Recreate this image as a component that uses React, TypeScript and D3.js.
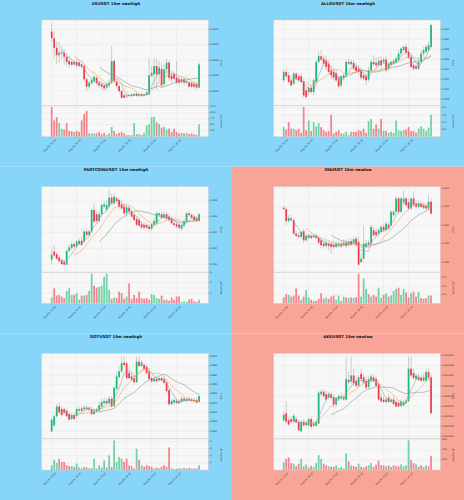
import React from 'react';
import * as d3 from 'd3';

type OHLC = [number, number, number, number]; // open, high, low, close

const timeLabels = ["Aug 04, 12:00", "Aug 04, 14:30", "Aug 04, 17:00", "Aug 04, 19:30", "Aug 04, 22:00", "Aug 05, 00:30"];
const timeTickIdx = [0, 10, 20, 30, 40, 50];

// ---------- USUSDT ----------
const usOHLC: OHLC[] = [
[0.05392,0.05419,0.05357,0.05371],[0.05371,0.05394,0.05303,0.05340],[0.05340,0.05362,0.05286,0.05316],[0.05316,0.05357,0.05292,0.05324],
[0.05322,0.05346,0.05303,0.05326],[0.05324,0.05335,0.05286,0.05311],[0.05311,0.05324,0.05281,0.05294],[0.05297,0.05313,0.05276,0.05286],
[0.05294,0.05303,0.05281,0.05285],[0.05286,0.05303,0.05281,0.05294],[0.05294,0.05308,0.05276,0.05283],[0.05292,0.05303,0.05276,0.05281],
[0.05286,0.05297,0.05270,0.05279],[0.05281,0.05286,0.05232,0.05238],[0.05238,0.05243,0.05200,0.05214],[0.05214,0.05232,0.05208,0.05227],
[0.05225,0.05243,0.05218,0.05236],[0.05232,0.05251,0.05225,0.05246],[0.05243,0.05249,0.05218,0.05225],[0.05227,0.05232,0.05208,0.05218],
[0.05222,0.05227,0.05205,0.05214],[0.05218,0.05225,0.05200,0.05208],[0.05211,0.05227,0.05203,0.05222],[0.05218,0.05238,0.05211,0.05227],
[0.05227,0.05346,0.05222,0.05297],[0.05297,0.05303,0.05227,0.05232],[0.05232,0.05238,0.05208,0.05216],[0.05216,0.05222,0.05192,0.05200],
[0.05200,0.05205,0.05175,0.05178],[0.05186,0.05191,0.05175,0.05178],[0.05182,0.05189,0.05177,0.05186],[0.05184,0.05190,0.05181,0.05187],
[0.05184,0.05192,0.05182,0.05189],[0.05186,0.05195,0.05184,0.05191],[0.05191,0.05195,0.05181,0.05184],[0.05185,0.05195,0.05182,0.05190],
[0.05190,0.05195,0.05181,0.05184],[0.05184,0.05192,0.05181,0.05189],[0.05187,0.05200,0.05184,0.05195],[0.05189,0.05308,0.05186,0.05251],
[0.05249,0.05281,0.05243,0.05259],[0.05254,0.05308,0.05216,0.05281],[0.05281,0.05303,0.05205,0.05254],[0.05254,0.05297,0.05227,0.05276],
[0.05272,0.05292,0.05211,0.05218],[0.05222,0.05286,0.05214,0.05270],[0.05270,0.05303,0.05249,0.05292],[0.05292,0.05300,0.05232,0.05243],
[0.05249,0.05265,0.05227,0.05238],[0.05254,0.05265,0.05232,0.05240],[0.05243,0.05297,0.05222,0.05227],[0.05238,0.05249,0.05218,0.05227],
[0.05229,0.05246,0.05222,0.05238],[0.05238,0.05246,0.05218,0.05227],[0.05227,0.05240,0.05222,0.05232],[0.05227,0.05232,0.05211,0.05214],
[0.05225,0.05232,0.05208,0.05214],[0.05224,0.05232,0.05208,0.05214],[0.05222,0.05229,0.05203,0.05211],[0.05211,0.05292,0.05208,0.05286],
];
const usVol = [12.5,6.8,8.2,5.7,3.4,3.0,5.8,2.4,2.3,2.0,2.4,2.0,6.8,9.5,10.9,1.4,1.4,1.4,1.4,2.0,1.1,1.6,0.7,1.4,4.1,2.4,1.1,1.6,2.0,1.4,0.7,0.7,0.7,5.7,1.1,1.1,0.7,1.6,4.8,5.2,8.2,8.4,6.1,5.4,3.8,4.1,3.0,3.4,2.0,3.4,2.0,1.4,1.6,1.4,1.6,1.1,1.4,1.0,0.8,5.2];
const usPriceTicks = [0.0520, 0.0525, 0.0530, 0.0535, 0.0540];
const usVolTicks = [2.5, 5.0, 7.5, 10.0, 12.5];

// ---------- ALLOUSDT ----------
const alloOHLC: OHLC[] = [
[0.25177,0.25379,0.25143,0.25345],[0.25345,0.25412,0.25231,0.25258],[0.25278,0.25345,0.25110,0.25143],[0.25177,0.25258,0.25056,0.25076],
[0.25110,0.25345,0.25076,0.25311],[0.25311,0.25345,0.25177,0.25211],[0.25258,0.25311,0.25143,0.25177],[0.25258,0.25325,0.25110,0.25143],
[0.25157,0.25211,0.24840,0.24874],[0.24975,0.25029,0.24807,0.24840],[0.24941,0.25076,0.24874,0.25029],[0.25029,0.25076,0.24908,0.24941],
[0.24941,0.25211,0.24874,0.25177],[0.25143,0.25581,0.25110,0.25547],[0.25547,0.25749,0.25513,0.25661],[0.25661,0.25783,0.25567,0.25594],
[0.25614,0.25682,0.25460,0.25513],[0.25581,0.25661,0.25379,0.25446],[0.25513,0.25581,0.25278,0.25345],[0.25379,0.25460,0.25211,0.25278],
[0.25345,0.25412,0.25177,0.25244],[0.25325,0.25379,0.25143,0.25177],[0.25211,0.25278,0.25009,0.25056],[0.25076,0.25278,0.25029,0.25258],
[0.25231,0.25325,0.25177,0.25278],[0.25278,0.25594,0.25231,0.25547],[0.25547,0.25614,0.25480,0.25513],[0.25500,0.25594,0.25460,0.25547],
[0.25527,0.25581,0.25365,0.25412],[0.25446,0.25513,0.25311,0.25365],[0.25412,0.25480,0.25278,0.25345],[0.25379,0.25446,0.25177,0.25231],
[0.25278,0.25345,0.25177,0.25211],[0.25258,0.25311,0.25076,0.25177],[0.25190,0.25446,0.25143,0.25379],[0.25379,0.25594,0.25345,0.25547],
[0.25547,0.25682,0.25460,0.25500],[0.25527,0.25635,0.25412,0.25480],[0.25480,0.25648,0.25446,0.25567],[0.25581,0.25661,0.25365,0.25480],
[0.25547,0.25635,0.25500,0.25594],[0.25594,0.25661,0.25345,0.25379],[0.25412,0.25547,0.25379,0.25513],[0.25480,0.25581,0.25446,0.25547],
[0.25513,0.25614,0.25480,0.25567],[0.25547,0.25661,0.25513,0.25614],[0.25581,0.25783,0.25547,0.25715],[0.25715,0.25850,0.25661,0.25816],
[0.25783,0.25884,0.25749,0.25850],[0.25850,0.25917,0.25682,0.25729],[0.25749,0.25816,0.25594,0.25635],[0.25648,0.25715,0.25412,0.25446],
[0.25480,0.25547,0.25365,0.25412],[0.25460,0.25513,0.25379,0.25412],[0.25412,0.25614,0.25379,0.25547],[0.25547,0.25783,0.25513,0.25715],
[0.25715,0.25850,0.25661,0.25783],[0.25749,0.25884,0.25715,0.25850],[0.25783,0.25951,0.25749,0.25884],[0.25850,0.26321,0.25816,0.26287],
];
const alloVol = [0.67,0.49,1.01,0.56,0.56,0.45,0.56,0.27,2.06,0.45,1.12,0.40,1.01,0.72,0.94,0.67,0.45,0.34,0.40,1.52,0.22,0.34,0.45,0.22,0.22,0.34,0.11,0.34,0.34,0.34,0.45,0.40,0.56,0.27,1.08,1.23,0.56,0.85,0.56,1.23,0.40,0.40,0.27,0.34,0.27,1.12,0.45,0.40,0.45,0.49,0.67,0.40,0.40,0.27,0.56,0.72,0.56,0.40,0.63,1.52];
const alloPriceTicks = [0.248, 0.250, 0.252, 0.254, 0.256, 0.258, 0.260, 0.262];
const alloVolTicks = [0.5, 1.0, 1.5, 2.0];

// ---------- PARTCOINUSDT ----------
const partOHLC: OHLC[] = [
[0.13055,0.13181,0.13000,0.13118],[0.13160,0.13244,0.13076,0.13109],[0.13126,0.13152,0.13055,0.13067],[0.13084,0.13109,0.13025,0.13034],
[0.13046,0.13067,0.12992,0.13000],[0.13025,0.13046,0.12983,0.12992],[0.12992,0.13181,0.12983,0.13168],[0.13168,0.13244,0.13152,0.13211],
[0.13202,0.13286,0.13181,0.13253],[0.13253,0.13295,0.13202,0.13223],[0.13223,0.13307,0.13202,0.13286],[0.13253,0.13328,0.13244,0.13295],
[0.13295,0.13349,0.13223,0.13244],[0.13286,0.13434,0.13265,0.13413],[0.13413,0.13455,0.13349,0.13370],[0.13370,0.13434,0.13349,0.13413],
[0.13413,0.13707,0.13392,0.13686],[0.13686,0.13770,0.13518,0.13539],[0.13632,0.13665,0.13518,0.13547],[0.13547,0.13665,0.13518,0.13632],
[0.13632,0.13770,0.13602,0.13749],[0.13728,0.13800,0.13707,0.13758],[0.13686,0.13813,0.13665,0.13749],[0.13728,0.13939,0.13707,0.13842],
[0.13842,0.13897,0.13749,0.13770],[0.13770,0.13897,0.13749,0.13855],[0.13834,0.13855,0.13770,0.13800],[0.13813,0.13842,0.13707,0.13728],
[0.13758,0.13813,0.13686,0.13707],[0.13728,0.13758,0.13623,0.13644],[0.13644,0.13749,0.13623,0.13716],[0.13716,0.13749,0.13644,0.13665],
[0.13665,0.13707,0.13581,0.13602],[0.13623,0.13644,0.13539,0.13560],[0.13573,0.13602,0.13476,0.13497],[0.13560,0.13589,0.13463,0.13488],
[0.13505,0.13539,0.13446,0.13463],[0.13497,0.13530,0.13434,0.13463],[0.13497,0.13518,0.13446,0.13463],[0.13476,0.13505,0.13421,0.13446],
[0.13446,0.13518,0.13421,0.13505],[0.13497,0.13581,0.13476,0.13547],[0.13518,0.13665,0.13497,0.13644],[0.13623,0.13665,0.13602,0.13644],
[0.13632,0.13665,0.13573,0.13589],[0.13589,0.13665,0.13573,0.13632],[0.13632,0.13665,0.13560,0.13581],[0.13602,0.13632,0.13539,0.13560],
[0.13581,0.13602,0.13497,0.13518],[0.13518,0.13547,0.13476,0.13497],[0.13505,0.13539,0.13455,0.13476],[0.13497,0.13518,0.13434,0.13463],
[0.13446,0.13518,0.13421,0.13497],[0.13488,0.13573,0.13463,0.13547],[0.13539,0.13665,0.13518,0.13644],[0.13644,0.13665,0.13602,0.13623],
[0.13623,0.13644,0.13573,0.13589],[0.13602,0.13632,0.13547,0.13560],[0.13581,0.13602,0.13530,0.13547],[0.13547,0.13644,0.13539,0.13632],
];
const partVol = [1.15,2.95,1.54,1.67,1.35,1.03,2.44,3.08,1.67,1.67,1.99,0.71,1.54,1.54,1.67,2.44,5.83,3.46,3.08,3.27,3.46,5.19,5.83,2.63,0.90,1.15,1.03,2.31,1.99,0.90,1.35,3.91,0.90,1.67,1.03,2.31,1.03,0.90,1.03,0.71,1.79,1.67,1.03,0.90,1.54,0.71,0.71,0.51,1.15,0.71,1.35,1.35,0.26,0.38,0.26,0.77,0.90,0.38,0.26,0.71];
const partPriceTicks = [0.130, 0.132, 0.134, 0.136, 0.138];
const partVolTicks = [2, 4, 6];

// ---------- ONUSDT ----------
const onOHLC: OHLC[] = [
[0.20473,0.20527,0.20409,0.20436],[0.20436,0.20500,0.20000,0.20109],[0.20109,0.20273,0.20073,0.20200],[0.20182,0.20273,0.20109,0.20136],
[0.20136,0.20200,0.19727,0.19773],[0.19773,0.19864,0.19682,0.19709],[0.19727,0.19818,0.19654,0.19682],[0.19682,0.19864,0.19636,0.19818],
[0.19836,0.19909,0.19527,0.19591],[0.19591,0.19773,0.19545,0.19709],[0.19654,0.19773,0.19618,0.19727],[0.19709,0.19773,0.19618,0.19654],
[0.19682,0.19773,0.19636,0.19727],[0.19727,0.19773,0.19618,0.19654],[0.19654,0.19709,0.19473,0.19527],[0.19591,0.19654,0.19382,0.19455],
[0.19500,0.19591,0.19364,0.19436],[0.19436,0.19591,0.19364,0.19527],[0.19500,0.19564,0.19318,0.19436],[0.19500,0.19564,0.19227,0.19409],
[0.19473,0.19564,0.19364,0.19409],[0.19409,0.19564,0.19364,0.19500],[0.19436,0.19564,0.19382,0.19500],[0.19500,0.19591,0.19382,0.19427],
[0.19455,0.19618,0.19409,0.19527],[0.19527,0.19591,0.19382,0.19436],[0.19455,0.19636,0.19409,0.19545],[0.19564,0.19636,0.19436,0.19473],
[0.19527,0.19682,0.19473,0.19618],[0.19636,0.19709,0.19409,0.19455],[0.19545,0.19682,0.18909,0.18927],[0.19000,0.19227,0.18982,0.19091],
[0.19091,0.20000,0.19045,0.19500],[0.19409,0.19591,0.19364,0.19500],[0.19527,0.19591,0.19436,0.19473],[0.19500,0.20000,0.19455,0.19954],
[0.19864,0.19954,0.19682,0.19727],[0.19818,0.19909,0.19682,0.19727],[0.19773,0.19909,0.19727,0.19864],[0.19818,0.20018,0.19773,0.19954],
[0.19954,0.20045,0.19818,0.19864],[0.19864,0.20091,0.19818,0.20045],[0.20018,0.20091,0.19864,0.19909],[0.20000,0.20409,0.19954,0.20364],
[0.20273,0.20409,0.20227,0.20364],[0.20364,0.20773,0.20318,0.20727],[0.20727,0.20773,0.20318,0.20364],[0.20364,0.20773,0.20318,0.20727],
[0.20618,0.20954,0.20564,0.20727],[0.20727,0.20773,0.20500,0.20545],[0.20618,0.20727,0.20409,0.20454],[0.20454,0.20773,0.20409,0.20727],
[0.20727,0.20909,0.20500,0.20545],[0.20591,0.20682,0.20454,0.20500],[0.20500,0.20682,0.20454,0.20591],[0.20591,0.20654,0.20454,0.20500],
[0.20545,0.20618,0.20436,0.20473],[0.20527,0.20591,0.20409,0.20454],[0.20454,0.20818,0.20409,0.20636],[0.20636,0.20727,0.20273,0.20318],
];
const onVol = [0.35,0.54,0.50,0.40,0.46,0.88,0.46,0.21,0.40,0.79,0.35,0.21,0.15,0.15,0.27,0.60,0.27,0.35,0.27,0.40,0.46,0.21,0.46,0.15,0.40,0.35,0.31,0.35,0.31,0.35,1.75,0.40,1.46,0.85,0.54,0.40,0.50,0.40,0.92,0.31,0.50,0.60,0.40,0.46,0.73,0.85,0.92,0.50,0.85,0.65,0.35,0.60,0.69,0.40,0.69,0.31,0.27,0.31,0.46,0.46];
const onPriceTicks = [0.190, 0.195, 0.200, 0.205, 0.210];
const onVolTicks = [0.5, 1.0, 1.5];

// ---------- DOTUSDT ----------
const dotOHLC: OHLC[] = [
[3.82982,3.83651,3.82947,3.83616],[3.83299,3.83862,3.83264,3.83792],[3.83792,3.84443,3.83739,3.84320],[3.84320,3.84531,3.83915,3.84003],
[3.84179,3.84355,3.83792,3.83862],[3.84179,3.84267,3.83915,3.84003],[3.84091,3.84214,3.83739,3.83792],[3.83915,3.84038,3.83563,3.83616],
[3.83651,3.83968,3.83563,3.83862],[3.83862,3.84003,3.83616,3.83651],[3.83827,3.84267,3.83739,3.84179],[3.84091,3.84320,3.84038,3.84179],
[3.84214,3.84355,3.84038,3.84091],[3.84179,3.84390,3.84091,3.84267],[3.84267,3.84390,3.84091,3.84179],[3.84144,3.84320,3.84038,3.84267],
[3.84179,3.84320,3.83862,3.83915],[3.83915,3.84214,3.83862,3.84091],[3.84038,3.84267,3.83968,3.84179],[3.84091,3.84566,3.84003,3.84390],
[3.84320,3.84742,3.84214,3.84566],[3.84496,3.84795,3.84443,3.84619],[3.84619,3.84795,3.84443,3.84496],[3.84496,3.84883,3.84390,3.84742],
[3.84742,3.84883,3.84267,3.84320],[3.84355,3.85411,3.84267,3.85323],[3.85270,3.86203,3.85147,3.85939],[3.85904,3.86467,3.85798,3.86203],
[3.86203,3.86995,3.86115,3.86643],[3.86678,3.86995,3.86467,3.86555],[3.86643,3.86731,3.85763,3.85851],[3.86115,3.86467,3.85763,3.85851],
[3.85939,3.86203,3.85675,3.85763],[3.85851,3.86027,3.85499,3.85622],[3.85622,3.86995,3.85587,3.86731],[3.86731,3.86995,3.86432,3.86502],
[3.86502,3.86819,3.86432,3.86678],[3.86555,3.86678,3.86291,3.86326],[3.86432,3.86590,3.86027,3.86115],[3.86203,3.86379,3.85728,3.85798],
[3.85851,3.85939,3.85587,3.85675],[3.85675,3.85939,3.85622,3.85798],[3.85798,3.85939,3.85622,3.85675],[3.85728,3.85939,3.85675,3.85851],
[3.85851,3.85939,3.85675,3.85728],[3.85798,3.85939,3.85499,3.85587],[3.85622,3.85763,3.85059,3.85147],[3.85200,3.85323,3.84355,3.84443],
[3.84443,3.84707,3.84390,3.84619],[3.84531,3.84742,3.84443,3.84672],[3.84619,3.84742,3.84443,3.84496],[3.84496,3.84707,3.84443,3.84619],
[3.84566,3.84883,3.84531,3.84742],[3.84742,3.84883,3.84566,3.84619],[3.84619,3.84795,3.84566,3.84742],[3.84742,3.84883,3.84619,3.84637],
[3.84707,3.84795,3.84566,3.84619],[3.84672,3.84795,3.84531,3.84601],[3.84672,3.84795,3.84496,3.84531],[3.84566,3.84971,3.84531,3.84883],
];
const dotVol = [0.68,1.45,1.0,1.59,1.14,1.14,0.68,0.55,0.55,0.45,0.91,0.36,0.23,0.45,0.36,0.27,0.27,1.59,0.23,0.68,0.36,1.36,0.36,2.05,0.45,4.18,1.14,1.82,1.59,1.14,1.59,0.68,0.55,0.23,3.0,1.45,0.68,0.45,0.68,0.55,0.45,0.23,0.36,0.23,0.45,0.68,0.45,3.18,0.23,0.18,0.18,0.27,0.23,0.27,0.23,0.27,0.23,0.18,0.23,0.68];
const dotPriceTicks = [3.830, 3.835, 3.840, 3.845, 3.850, 3.855, 3.860, 3.865, 3.870];
const dotVolTicks = [1, 2, 3, 4];

// ---------- AKEUSDT ----------
const akeOHLC: OHLC[] = [
[0.0010081,0.0010124,0.0010073,0.0010107],[0.0010115,0.0010175,0.0010064,0.0010073],[0.0010081,0.0010098,0.0010056,0.0010059],[0.0010086,0.0010098,0.0010064,0.0010073],
[0.0010073,0.0010115,0.0010064,0.0010103],[0.0010086,0.0010098,0.0010064,0.0010070],[0.0010073,0.0010086,0.0010025,0.0010031],[0.0010025,0.0010081,0.0010022,0.0010073],
[0.0010073,0.0010086,0.0010048,0.0010056],[0.0010056,0.0010081,0.0010053,0.0010070],[0.0010056,0.0010093,0.0010048,0.0010086],[0.0010086,0.0010098,0.0010039,0.0010048],
[0.0010053,0.0010076,0.0010048,0.0010064],[0.0010053,0.0010081,0.0010048,0.0010073],[0.0010064,0.0010225,0.0010059,0.0010217],[0.0010209,0.0010234,0.0010200,0.0010222],
[0.0010222,0.0010234,0.0010192,0.0010200],[0.0010209,0.0010225,0.0010175,0.0010183],[0.0010192,0.0010222,0.0010183,0.0010212],[0.0010209,0.0010222,0.0010183,0.0010192],
[0.0010195,0.0010209,0.0010144,0.0010158],[0.0010158,0.0010195,0.0010149,0.0010192],[0.0010183,0.0010209,0.0010175,0.0010200],[0.0010192,0.0010217,0.0010183,0.0010200],
[0.0010183,0.0010209,0.0010178,0.0010195],[0.0010183,0.0010395,0.0010178,0.0010285],[0.0010280,0.0010319,0.0010259,0.0010268],[0.0010273,0.0010395,0.0010259,0.0010302],
[0.0010302,0.0010336,0.0010251,0.0010263],[0.0010276,0.0010293,0.0010242,0.0010251],[0.0010251,0.0010302,0.0010242,0.0010293],[0.0010310,0.0010336,0.0010276,0.0010285],
[0.0010293,0.0010310,0.0010259,0.0010268],[0.0010276,0.0010297,0.0010234,0.0010242],[0.0010246,0.0010297,0.0010234,0.0010285],[0.0010276,0.0010310,0.0010268,0.0010297],
[0.0010293,0.0010310,0.0010268,0.0010276],[0.0010285,0.0010297,0.0010246,0.0010251],[0.0010259,0.0010276,0.0010178,0.0010183],[0.0010192,0.0010217,0.0010166,0.0010175],
[0.0010183,0.0010200,0.0010166,0.0010171],[0.0010171,0.0010195,0.0010161,0.0010183],[0.0010192,0.0010209,0.0010166,0.0010171],[0.0010171,0.0010192,0.0010166,0.0010183],
[0.0010183,0.0010195,0.0010154,0.0010161],[0.0010171,0.0010183,0.0010144,0.0010149],[0.0010166,0.0010178,0.0010144,0.0010149],[0.0010151,0.0010183,0.0010144,0.0010175],
[0.0010154,0.0010183,0.0010149,0.0010171],[0.0010166,0.0010192,0.0010161,0.0010178],[0.0010175,0.0010395,0.0010171,0.0010336],[0.0010336,0.0010395,0.0010293,0.0010302],
[0.0010314,0.0010336,0.0010280,0.0010290],[0.0010285,0.0010314,0.0010276,0.0010302],[0.0010293,0.0010310,0.0010273,0.0010280],[0.0010290,0.0010302,0.0010268,0.0010276],
[0.0010276,0.0010310,0.0010268,0.0010293],[0.0010276,0.0010336,0.0010268,0.0010319],[0.0010319,0.0010336,0.0010285,0.0010293],[0.0010293,0.0010310,0.0010110,0.0010115],
];
const akeVol = [156,219,250,138,125,75,125,219,75,113,50,88,63,138,294,219,125,94,75,63,63,94,44,63,31,331,175,94,75,63,125,63,50,75,94,138,63,106,188,94,94,75,94,63,94,75,75,113,75,94,590,200,138,113,63,94,63,94,75,281];
const akePriceTicks = [0.001000, 0.001005, 0.001010, 0.001015, 0.001020, 0.001025, 0.001030, 0.001035, 0.001040];
const akeVolTicks = [200, 400, 600];

// ---------- layout / style ----------
const PW = 232, PH = 500 / 3;
const L = 41.7, R = 208.3, T = 20, PB = 105.5, VB = 136.7;
const BLUE = '#88d5fa', SALMON = '#f8a597';
const UP = '#1fba78', DOWN = '#f23b4c';
const MA_COLORS = ['#8fa3b8', '#f2a65a', '#7f9a8e'];
const MA_WINDOWS = [5, 10, 20];
const FONT = 'DejaVu Sans, sans-serif';

interface PanelProps {
  px: number; py: number; bg: string; title: string;
  ohlc: OHLC[]; vol: number[]; pTicks: number[]; pDec: number; vTicks: number[]; vDec: number;
}

function Panel({ px, py, bg, title, ohlc, vol, pTicks, pDec, vTicks, vDec }: PanelProps) {
  const n = ohlc.length;
  const xs = d3.scaleLinear().domain([-4, n + 2.7]).range([L, R]);
  const mn = d3.min(ohlc, d => d[2]) as number;
  const mx = d3.max(ohlc, d => d[1]) as number;
  const rg = mx - mn;
  const ys = d3.scaleLinear().domain([mn - 0.09 * rg, mx + 0.045 * rg]).range([PB, T]);
  const vs = d3.scaleLinear().domain([0, (d3.max(vol) as number) * 1.05]).range([VB, PB]);
  const step = xs(1) - xs(0);
  const bw = step * 0.7;
  const closes = ohlc.map(d => d[3]);
  const mas = MA_WINDOWS.map(w => closes.map((_, i) => (i < w - 1 ? null : (d3.mean(closes.slice(i - w + 1, i + 1)) as number))));
  const line = d3.line<number | null>().defined(d => d != null).x((_, i) => xs(i)).y(d => ys(d as number));
  const [y0, y1] = ys.domain();
  const pt = pTicks.filter(t => t >= y0 && t <= y1);
  const vt = vTicks.filter(t => t <= vs.domain()[1]);
  const fmtP = d3.format(`.${pDec}f`);
  const fmtV = d3.format(`.${vDec}f`);
  return (
    <g transform={`translate(${px},${py})`}>
      <rect x={0} y={0} width={PW} height={PH} fill={bg} />
      <text x={PW / 2} y={4.6} textAnchor="middle" fontFamily={FONT} fontWeight="bold" fontSize={3.9} fill="#111">{title}</text>
      <rect x={L} y={T} width={R - L} height={VB - T} fill="#f7f7f7" />
      {/* grid */}
      {timeTickIdx.map(i => (
        <line key={'gx' + i} x1={xs(i)} x2={xs(i)} y1={T} y2={VB} stroke="#e3e3e3" strokeWidth={0.4} />
      ))}
      {pt.map(t => (
        <line key={'gy' + t} x1={L} x2={R} y1={ys(t)} y2={ys(t)} stroke="#e3e3e3" strokeWidth={0.4} />
      ))}
      {vt.map(t => (
        <line key={'gv' + t} x1={L} x2={R} y1={vs(t)} y2={vs(t)} stroke="#e3e3e3" strokeWidth={0.4} />
      ))}
      {/* volume */}
      {vol.map((v, i) => {
        const up = ohlc[i][3] >= ohlc[i][0];
        return <rect key={'v' + i} x={xs(i) - bw / 2} y={vs(v)} width={bw} height={VB - vs(v)} fill={up ? UP : DOWN} fillOpacity={0.62} />;
      })}
      {/* wicks */}
      {ohlc.map((d, i) => (
        <line key={'w' + i} x1={xs(i)} x2={xs(i)} y1={ys(d[1])} y2={ys(d[2])} stroke="#9a9a9a" strokeWidth={0.45} />
      ))}
      {/* bodies */}
      {ohlc.map((d, i) => {
        const up = d[3] >= d[0];
        const top = ys(Math.max(d[0], d[3]));
        const bot = ys(Math.min(d[0], d[3]));
        return <rect key={'b' + i} x={xs(i) - bw / 2} y={top} width={bw} height={Math.max(0.35, bot - top)} fill={up ? UP : DOWN} />;
      })}
      {/* moving averages */}
      {mas.map((m, k) => (
        <path key={'ma' + k} d={line(m) || ''} fill="none" stroke={MA_COLORS[k]} strokeWidth={0.6} />
      ))}
      {/* frames */}
      <rect x={L} y={T} width={R - L} height={PB - T} fill="none" stroke="#cfcfcf" strokeWidth={0.5} />
      <rect x={L} y={PB} width={R - L} height={VB - PB} fill="none" stroke="#cfcfcf" strokeWidth={0.5} />
      {/* price axis */}
      {pt.map(t => (
        <g key={'pt' + t}>
          <line x1={R} x2={R + 1.2} y1={ys(t)} y2={ys(t)} stroke="#555" strokeWidth={0.3} />
          <text x={R + 2} y={ys(t)} dominantBaseline="central" fontFamily={FONT} fontSize={2.4} fill="#333">{fmtP(t)}</text>
        </g>
      ))}
      <text transform={`translate(221.5,${(T + PB) / 2}) rotate(-90)`} textAnchor="middle" fontFamily={FONT} fontSize={2.5} fill="#333">Price</text>
      {/* volume axis */}
      {vt.map(t => (
        <g key={'vt' + t}>
          <line x1={R} x2={R + 1.2} y1={vs(t)} y2={vs(t)} stroke="#555" strokeWidth={0.3} />
          <text x={R + 2} y={vs(t)} dominantBaseline="central" fontFamily={FONT} fontSize={2.4} fill="#333">{fmtV(t)}</text>
        </g>
      ))}
      <text transform={`translate(221.5,${(PB + VB) / 2}) rotate(-90)`} textAnchor="middle" fontFamily={FONT} fontSize={2.4} fill="#333">
        Volume  10<tspan dy={-0.8} fontSize={1.7}>6</tspan>
      </text>
      {/* time axis */}
      {timeTickIdx.map((i, k) => (
        <g key={'tx' + i}>
          <line x1={xs(i)} x2={xs(i)} y1={VB} y2={VB + 1.2} stroke="#555" strokeWidth={0.3} />
          <text transform={`translate(${xs(i) + 4.5},${VB + 3.5}) rotate(-45)`} textAnchor="end" fontFamily={FONT} fontSize={2.4} fill="#333">{timeLabels[k]}</text>
        </g>
      ))}
    </g>
  );
}

export default function App() {
  return (
    <svg width={464} height={500} style={{ position: 'absolute', left: 0, top: 0, display: 'block' }}>
      <Panel px={0} py={0} bg={BLUE} title="USUSDT 15m newhigh" ohlc={usOHLC} vol={usVol} pTicks={usPriceTicks} pDec={4} vTicks={usVolTicks} vDec={1} />
      <Panel px={PW} py={0} bg={BLUE} title="ALLOUSDT 15m newhigh" ohlc={alloOHLC} vol={alloVol} pTicks={alloPriceTicks} pDec={3} vTicks={alloVolTicks} vDec={1} />
      <Panel px={0} py={PH} bg={BLUE} title="PARTCOINUSDT 15m newhigh" ohlc={partOHLC} vol={partVol} pTicks={partPriceTicks} pDec={3} vTicks={partVolTicks} vDec={0} />
      <Panel px={PW} py={PH} bg={SALMON} title="ONUSDT 15m newlow" ohlc={onOHLC} vol={onVol} pTicks={onPriceTicks} pDec={3} vTicks={onVolTicks} vDec={1} />
      <Panel px={0} py={2 * PH} bg={BLUE} title="DOTUSDT 15m newhigh" ohlc={dotOHLC} vol={dotVol} pTicks={dotPriceTicks} pDec={3} vTicks={dotVolTicks} vDec={0} />
      <Panel px={PW} py={2 * PH} bg={SALMON} title="AKEUSDT 15m newlow" ohlc={akeOHLC} vol={akeVol} pTicks={akePriceTicks} pDec={6} vTicks={akeVolTicks} vDec={0} />
    </svg>
  );
}
